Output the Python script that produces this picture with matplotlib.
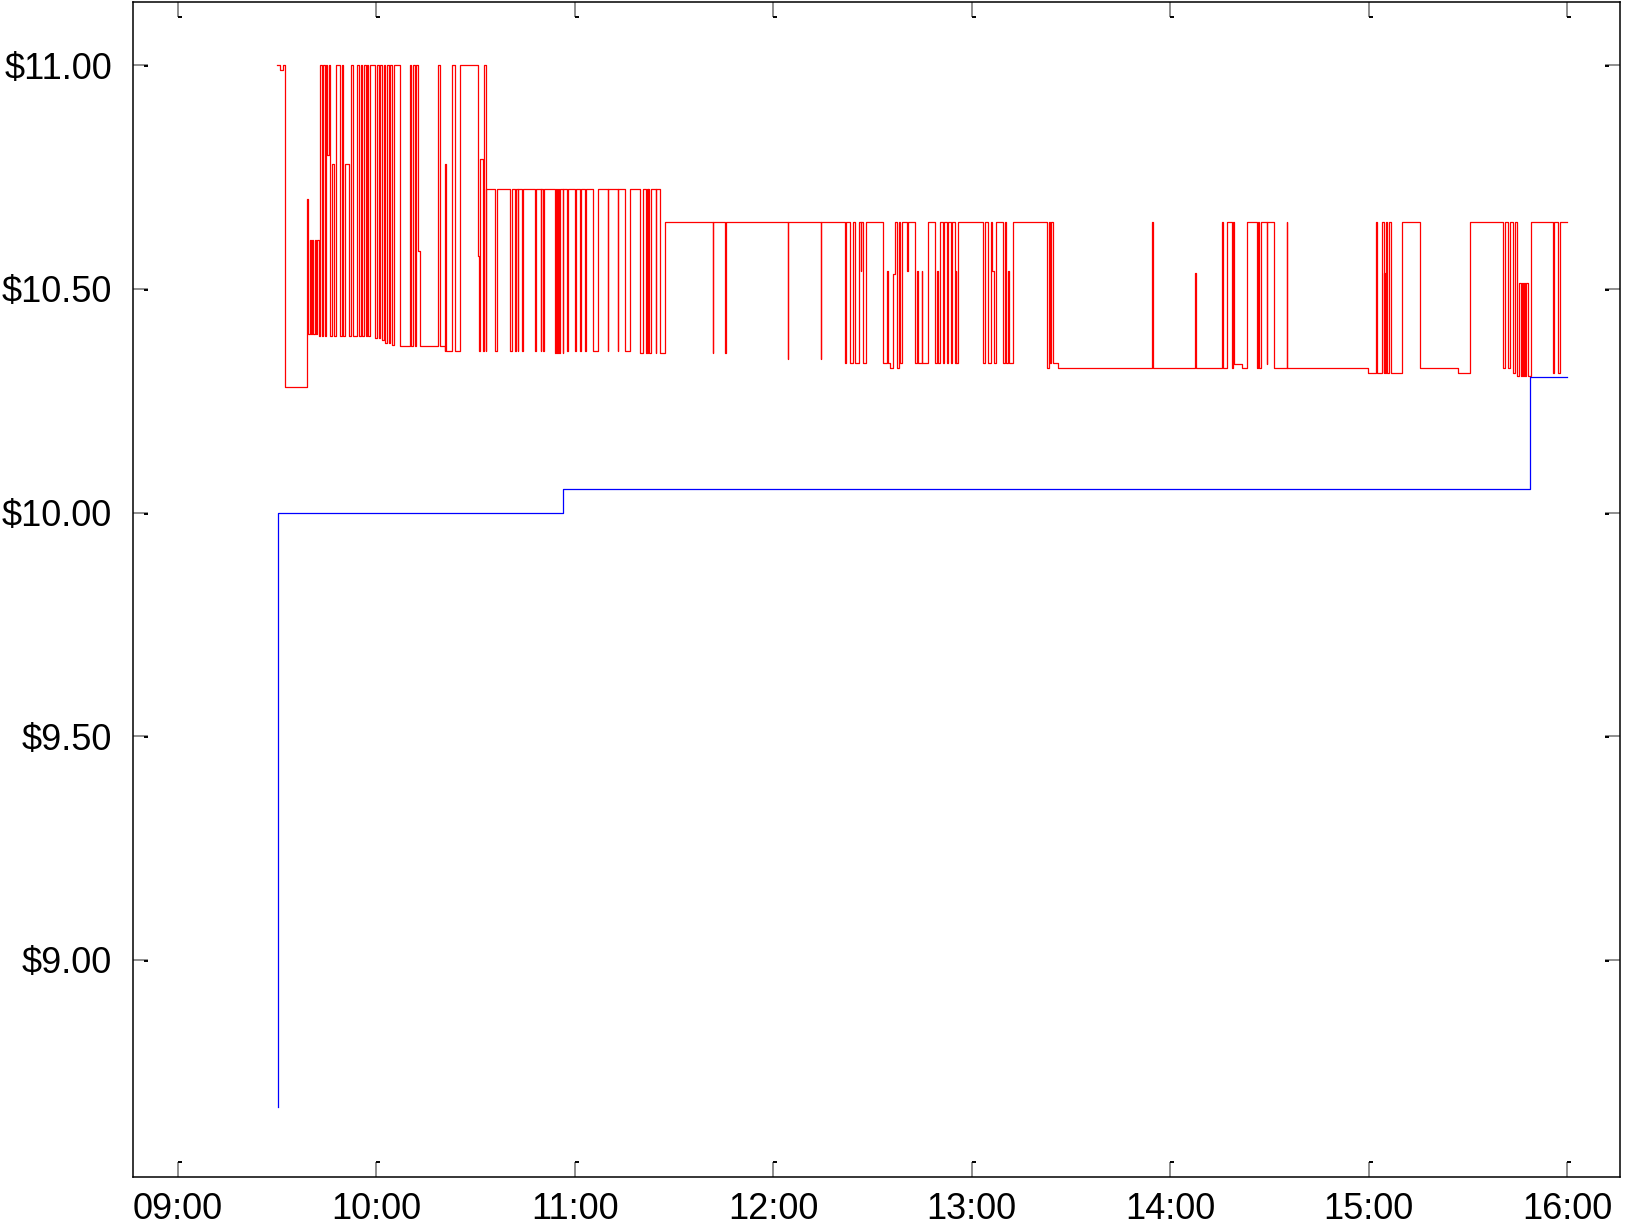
import matplotlib
matplotlib.use('Agg')
import matplotlib.pyplot as plt
from matplotlib.path import Path

plt.rcParams['font.family'] = ['Liberation Sans', 'DejaVu Sans']

# ---- data (time in minutes after midnight, price in $) ----
red_t = [
    570.0, 570.8, 571.8, 572.3,
    579.1, 579.4, 579.9, 580.2, 580.6, 580.9, 581.3, 581.6, 582.0, 582.5,
    582.9, 583.4, 583.7, 584.4, 584.7, 585.1, 585.7, 586.1, 586.5, 587.1,
    587.8, 589.0, 589.5, 590.0, 590.6, 591.8, 592.2, 592.8, 594.2, 594.8,
    595.2, 595.7, 596.1, 596.7, 597.1, 597.6, 598.0, 599.6, 600.1, 600.7,
    601.1, 601.6, 602.3, 602.7, 603.3, 603.7, 604.1, 604.7, 605.2, 607.1,
    610.1, 610.6, 611.1, 611.6, 611.9, 612.5, 613.2,
    618.5, 619.2, 620.7, 620.8, 620.9, 622.9, 623.7, 625.3,
    630.6, 631.0, 631.4, 632.1, 632.4, 633.0, 633.2,
    635.9, 636.6, 640.4, 640.9, 641.9, 642.1, 642.7, 642.9, 644.1, 644.3,
    647.9, 648.1, 649.7, 649.9, 650.4, 650.6, 654.1, 654.3, 654.7, 654.9,
    655.3, 655.6, 656.3, 656.5, 657.7, 657.9, 660.0, 660.2, 661.6, 661.8,
    663.1, 663.3, 665.4, 666.9, 669.9, 670.1, 672.9, 673.1, 675.2, 676.7,
    679.7, 680.7, 681.5, 681.7, 682.0, 682.2, 682.5, 683.1, 684.4, 684.5,
    685.7, 687.3,
    701.7, 701.9, 705.4, 705.6, 724.3, 724.5, 734.3, 734.5, 741.8, 742.0,
    743.2, 744.0, 744.8, 745.8, 746.4, 746.6, 747.0, 747.9,
    753.1, 754.5, 754.8, 755.3, 756.1, 756.8, 757.4, 757.9, 758.3, 758.8,
    760.5, 760.8, 762.8, 763.4, 763.6, 764.9, 765.1, 766.9,
    768.9, 769.6, 769.8, 770.4, 771.2, 771.5, 772.4, 772.7, 773.6, 773.9,
    774.8, 775.1, 775.3, 775.9, 783.3, 784.1,
    784.9, 785.7, 786.2, 786.6, 787.3,
    789.4, 790.0, 790.3, 790.9, 791.2, 792.6,
    802.8, 803.4, 803.8, 804.1, 804.6, 806.0,
    834.6, 834.8, 847.5, 847.7,
    855.6, 855.9, 857.1, 858.6, 859.1, 859.4, 861.6, 863.1,
    866.2, 866.6, 866.9, 867.4, 869.2, 869.4, 871.5,
    875.2, 875.4, 899.9,
    902.2, 902.5, 904.0, 904.5, 904.7, 905.0, 905.3, 905.7, 906.3, 906.8,
    910.0, 915.6, 927.0, 930.7,
    940.6, 941.3, 942.1, 942.8, 943.6, 944.3,
    945.0, 945.6, 946.0, 946.3, 946.7, 947.0, 947.4, 947.7, 948.1,
    949.0, 955.6, 955.9, 957.2, 957.9, 960.0,
]
red_v = [
    11.00, 10.99, 11.00, 10.28,
    10.70, 10.40, 10.61, 10.40, 10.61, 10.40, 10.61, 10.40, 10.61, 10.395,
    11.00, 10.395, 11.00, 10.395, 11.00, 10.80, 11.00, 10.395, 10.78, 10.395,
    11.00, 10.395, 11.00, 10.395, 10.78, 10.395, 11.00, 10.395, 11.00, 10.395,
    11.00, 10.395, 11.00, 10.395, 11.00, 10.395, 11.00, 10.39, 11.00, 10.39,
    11.00, 10.385, 11.00, 10.38, 11.00, 10.38, 11.00, 10.375, 11.00, 10.373,
    11.00, 10.373, 11.00, 10.373, 11.00, 10.584, 10.373,
    11.00, 10.373, 10.362, 10.78, 10.362, 11.00, 10.362, 11.00,
    10.574, 10.362, 10.79, 10.362, 11.00, 10.362, 10.722,
    10.362, 10.722, 10.362, 10.722, 10.362, 10.722, 10.362, 10.722, 10.362, 10.722,
    10.362, 10.722, 10.362, 10.722, 10.362, 10.722, 10.356, 10.722, 10.356, 10.722,
    10.356, 10.722, 10.356, 10.722, 10.362, 10.722, 10.362, 10.722, 10.362, 10.722,
    10.362, 10.722, 10.362, 10.722, 10.362, 10.722, 10.362, 10.722, 10.362, 10.722,
    10.356, 10.722, 10.356, 10.722, 10.356, 10.722, 10.356, 10.722, 10.356, 10.722,
    10.356, 10.65,
    10.356, 10.65, 10.356, 10.65, 10.344, 10.65, 10.344, 10.65, 10.335, 10.65,
    10.335, 10.65, 10.335, 10.65, 10.539, 10.65, 10.335, 10.65,
    10.335, 10.539, 10.335, 10.324, 10.533, 10.65, 10.324, 10.65, 10.335, 10.65,
    10.539, 10.65, 10.335, 10.539, 10.335, 10.539, 10.335, 10.65,
    10.335, 10.539, 10.335, 10.65, 10.335, 10.65, 10.335, 10.65, 10.335, 10.65,
    10.335, 10.539, 10.335, 10.65, 10.335, 10.65,
    10.335, 10.65, 10.539, 10.335, 10.65,
    10.335, 10.65, 10.335, 10.539, 10.335, 10.65,
    10.322, 10.65, 10.335, 10.65, 10.335, 10.322,
    10.65, 10.322, 10.535, 10.322,
    10.65, 10.322, 10.65, 10.322, 10.65, 10.333, 10.322, 10.65,
    10.322, 10.65, 10.322, 10.65, 10.333, 10.65, 10.322,
    10.65, 10.322, 10.311,
    10.65, 10.311, 10.65, 10.311, 10.535, 10.311, 10.65, 10.311, 10.65, 10.311,
    10.65, 10.322, 10.311, 10.65,
    10.322, 10.65, 10.322, 10.65, 10.311, 10.65,
    10.306, 10.513, 10.306, 10.513, 10.306, 10.513, 10.306, 10.513, 10.306,
    10.65, 10.311, 10.65, 10.311, 10.65, 10.65,
]
blue_t = [570.1, 570.2, 656.4, 948.8, 960.0]
blue_v = [8.671, 10.00, 10.052, 10.304, 10.304]

x_ticks = [540, 600, 660, 720, 780, 840, 900, 960]
x_labels = ['09:00', '10:00', '11:00', '12:00', '13:00', '14:00', '15:00', '16:00']
y_ticks = [9.00, 9.50, 10.00, 10.50, 11.00]
y_labels = ['$9.00', '$9.50', '$10.00', '$10.50', '$11.00']

# ---- figure ----
W, H = 1625, 1226
fig = plt.figure(figsize=(W / 100, H / 100), dpi=100)
ax = fig.add_axes([133 / W, 49 / H, (1620 - 133) / W, (1177 - 2) / H])

ax.plot(red_t, red_v, drawstyle='steps-post', color='#ff0000', lw=0.9)
ax.plot(blue_t, blue_v, drawstyle='steps-post', color='#0000ff', lw=0.9)

ax.set_xlim(526.4, 976.0)
ax.set_ylim(8.515, 11.141)

ax.set_xticks(x_ticks)
ax.set_xticklabels(x_labels)
ax.set_yticks(y_ticks)
ax.set_yticklabels(y_labels)
ax.xaxis.remove_overlapping_locs = False
ax.yaxis.remove_overlapping_locs = False
ax.set_xticks(x_ticks, minor=True)
ax.set_yticks(y_ticks, minor=True)

for s in ax.spines.values():
    s.set_linewidth(1.1)
    s.set_color('black')

ax.tick_params(which='major', direction='in', length=10.8, width=1.1,
               color='#707070', top=True, right=True, labelsize=26)
ax.tick_params(axis='x', which='major', pad=11)
ax.tick_params(axis='y', which='major', pad=15)
ax.tick_params(which='minor', direction='in', length=21.6, width=1.4,
               color='black', top=True, right=True,
               labelbottom=False, labelleft=False)

# hook-shaped tick ends
for t in ax.xaxis.get_minor_ticks():
    t.tick1line.set_marker(Path([(0, 1), (0.27, 1)]))
    t.tick2line.set_marker(Path([(0, -1), (0.27, -1)]))
for t in ax.yaxis.get_minor_ticks():
    t.tick1line.set_marker(Path([(0.72, -0.05), (1, -0.05)]))
    t.tick2line.set_marker(Path([(-1, -0.05), (-0.72, -0.05)]))

fig.savefig('out.png', dpi=100)
